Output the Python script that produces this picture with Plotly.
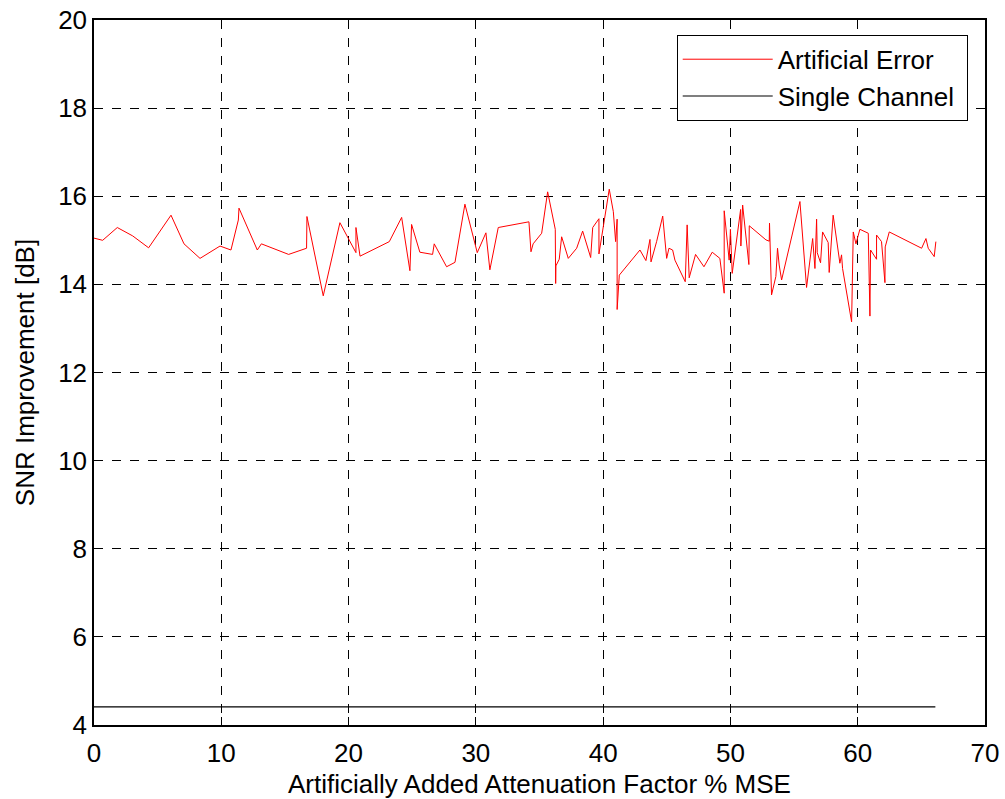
import plotly.graph_objects as go

# Artificial Error curve
err_x = [0, 0.68, 1.83, 3.04, 4.29, 6.05, 7.07, 8.33, 9.9, 10.76, 11.34, 11.39, 12.83, 13.15,
         15.29, 16.7, 16.73, 18.01, 19.32, 20.58, 20.58, 20.9, 23.2, 24.17, 24.82, 24.95, 25.6,
         26.6, 26.73, 27.7, 28.36, 29.14, 30.11, 30.79, 31.1, 31.76, 34.17, 34.25, 34.33, 34.5,
         35.17, 35.64, 36.24, 36.27, 36.29, 36.55, 36.74, 37.26, 37.92, 38.39, 39.02, 39.18,
         39.67, 39.67, 40.48, 40.8, 40.98, 41.1, 41.1, 41.27, 42.89, 43.36, 43.68, 43.76, 44.2,
         44.68, 44.99, 45.17, 45.46, 45.64, 46.45, 46.6, 46.76, 47.26, 47.92, 48.57, 49.17,
         49.51, 49.51, 49.9, 50.0, 50.14, 50.8, 50.82, 50.96, 51.45, 51.48, 52.79, 53.05, 53.07,
         53.23, 53.57, 53.7, 53.83, 54.02, 55.46, 55.98, 56.46, 56.64, 56.77, 56.82, 57.08,
         57.24, 57.68, 57.76, 58.07, 58.6, 58.73, 58.81, 59.52, 59.65, 59.86, 60.17, 60.83,
         60.96, 61.01, 61.48, 61.48, 61.87, 62.14, 62.16, 62.48, 65.02, 65.36, 65.54, 66.01, 66.14]
err_y = [15.05, 15.0, 15.29, 15.10, 14.83, 15.57, 14.92, 14.59, 14.87, 14.78, 15.46, 15.73, 14.78, 14.92,
         14.68, 14.82, 15.54, 13.74, 15.40, 14.72, 15.29, 14.64, 14.97, 15.52, 14.31, 15.36, 14.73,
         14.68, 14.92, 14.40, 14.50, 15.82, 14.72, 15.17, 14.33, 15.29, 15.42, 15.0, 14.74, 14.92,
         15.16, 16.1, 15.25, 14.02, 14.42, 14.57, 15.08, 14.59, 14.82, 15.21, 14.61, 15.29,
         15.49, 14.69, 16.16, 15.65, 14.97, 15.48, 13.43, 14.21, 14.78, 14.54, 15.02, 14.51, 14.97,
         15.55, 14.59, 14.82, 14.78, 14.55, 14.06, 15.35, 14.15, 14.68, 14.40, 14.73, 14.59,
         13.80, 15.67, 14.55, 15.25, 14.25, 15.70, 14.87, 15.80, 14.45, 15.33, 15.01, 14.98, 15.39,
         13.76, 14.18, 14.82, 14.44, 14.10, 15.88, 13.93, 15.04, 14.36, 15.48, 14.72, 14.49,
         15.19, 14.95, 14.27, 15.57, 14.48, 14.67, 14.36, 13.15, 15.19, 14.92, 15.25, 15.16,
         13.28, 14.78, 14.57, 15.12, 14.97, 14.04, 14.85, 15.19, 14.82, 15.04, 14.82, 14.63, 14.97]

# Single Channel baseline
single_x = [0, 66.1]
single_y = [4.41, 4.41]

x_ticks = [0, 10, 20, 30, 40, 50, 60, 70]
y_ticks = [4, 6, 8, 10, 12, 14, 16, 18, 20]

font_family = 'Liberation Sans, Arial, sans-serif'
fsize = 26

fig = go.Figure()
fig.add_trace(go.Scatter(x=err_x, y=err_y, mode='lines', name='Artificial Error',
                         line=dict(color='#ff0000', width=1)))
fig.add_trace(go.Scatter(x=single_x, y=single_y, mode='lines', name='Single Channel\u00a0',
                         line=dict(color='#000000', width=1.2)))

axis_common = dict(
    showline=True, linecolor='black', linewidth=1.5, mirror='ticks',
    ticks='inside', ticklen=8, tickcolor='black', ticklabeloverflow='allow',
    automargin=False,
    showgrid=True, gridcolor='black', gridwidth=1, griddash='dash',
    zeroline=False, tickfont=dict(size=fsize, color='black', family=font_family),
)

fig.update_xaxes(range=[0, 70], tickvals=x_ticks, ticklabelstandoff=4,
                 title=dict(text='Artificially Added Attenuation Factor % MSE',
                            font=dict(size=fsize, color='black', family=font_family), standoff=8),
                 **axis_common)
fig.update_yaxes(range=[4, 20], tickvals=y_ticks,
                 title=dict(text='SNR Improvement [dB]',
                            font=dict(size=fsize, color='black', family=font_family), standoff=16),
                 **axis_common)

fig.update_layout(
    width=1005, height=799,
    margin=dict(l=94, r=20, t=20, b=74, autoexpand=False),
    plot_bgcolor='white', paper_bgcolor='white',
    font=dict(family=font_family, color='black'),
    legend=dict(x=0.654, y=0.979, xanchor='left', yanchor='top', itemwidth=90,
                bgcolor='white', bordercolor='black', borderwidth=1,
                font=dict(size=fsize, color='black', family=font_family)),
)

# drop the page's default body margin so the figure sits at the window corner
fig.write_html("out.html", config={'displayModeBar': False},
               post_script="document.body.style.margin='0';")
